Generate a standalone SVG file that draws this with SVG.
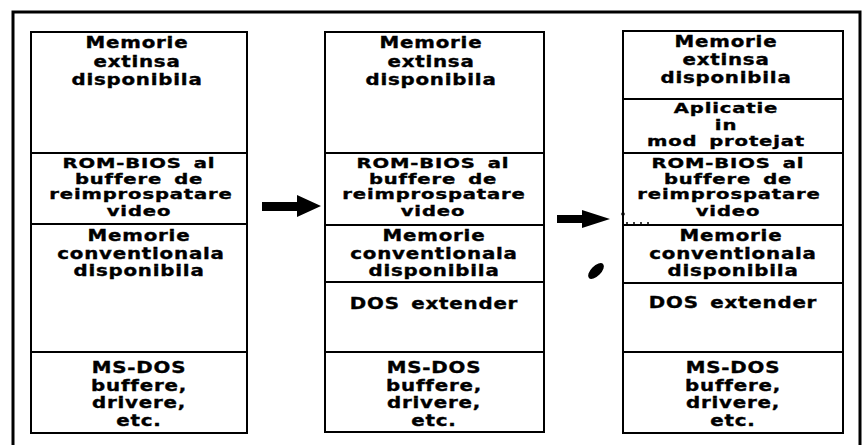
<svg xmlns="http://www.w3.org/2000/svg" width="866" height="445" viewBox="0 0 866 445">
<style>
.box{fill:#fff;stroke:#000;stroke-width:2}
.div{stroke:#000;stroke-width:2;fill:none}
.t{font-family:"DejaVu Sans","Liberation Sans",sans-serif;font-weight:bold;font-size:15px;letter-spacing:0.6px;word-spacing:3px;text-anchor:middle;fill:#000;stroke:#000;stroke-width:0.35px}
.s{font-size:13.4px}
.m{font-size:14px}
</style>
<rect x="0" y="0" width="866" height="445" fill="#fff"/>
<path d="M13,445 V12 H860 V445" fill="none" stroke="#000" stroke-width="3"/>

<g id="col1">
<rect class="box" x="31" y="32" width="216" height="401"/>
<path class="div" d="M31,153 H247 M31,224 H247 M31,352 H247"/>
<g id="c1-ext">
<text class="t" transform="translate(137,48) scale(1.32,1)">Memorie</text>
<text class="t" transform="translate(137,67) scale(1.32,1)">extinsa</text>
<text class="t" transform="translate(137,85) scale(1.32,1)">disponibila</text>
</g>
<g id="c1-rom">
<text class="t s" transform="translate(139,168) scale(1.46,1)">ROM-BIOS al</text>
<text class="t s" transform="translate(139,183.5) scale(1.46,1)">buffere de</text>
<text class="t s" transform="translate(141,199) scale(1.46,1)">reimprospatare</text>
<text class="t s" transform="translate(139,216) scale(1.46,1)">video</text>
</g>
<g id="c1-conv">
<text class="t" transform="translate(139,241) scale(1.32,1)">Memorie</text>
<text class="t" transform="translate(141,258.5) scale(1.32,1)">conventionala</text>
<text class="t" transform="translate(139,276) scale(1.32,1)">disponibila</text>
</g>
<g id="c1-dos">
<text class="t" transform="translate(139,373) scale(1.32,1)">MS-DOS</text>
<text class="t" transform="translate(139,390.5) scale(1.32,1)">buffere,</text>
<text class="t" transform="translate(139,408) scale(1.32,1)">drivere,</text>
<text class="t" transform="translate(139,425.5) scale(1.32,1)">etc.</text>
</g>
</g>

<g id="col2">
<rect class="box" x="325" y="32" width="219" height="400"/>
<path class="div" d="M325,153 H544 M325,225 H544 M325,282 H544 M325,352 H544"/>
<g id="c2-ext">
<text class="t" transform="translate(431,48) scale(1.32,1)">Memorie</text>
<text class="t" transform="translate(431,67) scale(1.32,1)">extinsa</text>
<text class="t" transform="translate(431,85) scale(1.32,1)">disponibila</text>
</g>
<g id="c2-rom">
<text class="t s" transform="translate(433,168) scale(1.46,1)">ROM-BIOS al</text>
<text class="t s" transform="translate(433,183.5) scale(1.46,1)">buffere de</text>
<text class="t s" transform="translate(434,199) scale(1.46,1)">reimprospatare</text>
<text class="t s" transform="translate(433,216) scale(1.46,1)">video</text>
</g>
<g id="c2-conv">
<text class="t" transform="translate(434,241) scale(1.32,1)">Memorie</text>
<text class="t" transform="translate(434,258.5) scale(1.32,1)">conventionala</text>
<text class="t" transform="translate(434,276) scale(1.32,1)">disponibila</text>
</g>
<g id="c2-ext-dos">
<text class="t" transform="translate(434,309) scale(1.32,1)">DOS extender</text>
</g>
<g id="c2-dos">
<text class="t" transform="translate(434,373) scale(1.32,1)">MS-DOS</text>
<text class="t" transform="translate(434,390.5) scale(1.32,1)">buffere,</text>
<text class="t" transform="translate(434,408) scale(1.32,1)">drivere,</text>
<text class="t" transform="translate(434,425.5) scale(1.32,1)">etc.</text>
</g>
</g>

<g id="col3">
<rect class="box" x="623" y="31" width="220" height="402"/>
<path class="div" d="M623,99 H843 M623,153 H843 M623,225 H843 M623,283 H843 M623,352 H843"/>
<g id="c3-ext">
<text class="t" transform="translate(726,47) scale(1.32,1)">Memorie</text>
<text class="t" transform="translate(726,65) scale(1.32,1)">extinsa</text>
<text class="t" transform="translate(726,83) scale(1.32,1)">disponibila</text>
</g>
<g id="c3-app">
<text class="t m" transform="translate(726,113) scale(1.4,1)">Aplicatie</text>
<text class="t m" transform="translate(726,129.5) scale(1.4,1)">in</text>
<text class="t m" transform="translate(726,146) scale(1.4,1)">mod protejat</text>
</g>
<g id="c3-rom">
<text class="t s" transform="translate(728,168) scale(1.46,1)">ROM-BIOS al</text>
<text class="t s" transform="translate(728,183.5) scale(1.46,1)">buffere de</text>
<text class="t s" transform="translate(729,199) scale(1.46,1)">reimprospatare</text>
<text class="t s" transform="translate(728,216) scale(1.46,1)">video</text>
</g>
<g id="c3-conv">
<text class="t" transform="translate(731,241) scale(1.32,1)">Memorie</text>
<text class="t" transform="translate(733,258.5) scale(1.32,1)">conventionala</text>
<text class="t" transform="translate(733,276) scale(1.32,1)">disponibila</text>
</g>
<g id="c3-ext-dos">
<text class="t" transform="translate(733,308) scale(1.32,1)">DOS extender</text>
</g>
<g id="c3-dos">
<text class="t" transform="translate(733,373) scale(1.32,1)">MS-DOS</text>
<text class="t" transform="translate(733,390.5) scale(1.32,1)">buffere,</text>
<text class="t" transform="translate(733,408) scale(1.32,1)">drivere,</text>
<text class="t" transform="translate(733,425.5) scale(1.32,1)">etc.</text>
</g>
</g>

<g id="connectors" fill="#000">
<path d="M262,202 H297 V195 L321,206 L297,217 V211 H262 Z"/>
<path d="M557,215 H582 V210 L610,219 L582,228 V223 H557 Z"/>
<circle cx="623" cy="214" r="1.8"/>
<path d="M626,223 H650" stroke="#000" stroke-width="1.5" stroke-dasharray="2 5" fill="none"/>
<ellipse cx="596" cy="271" rx="10" ry="5" transform="rotate(-45 596 271)"/>
</g>
</svg>
